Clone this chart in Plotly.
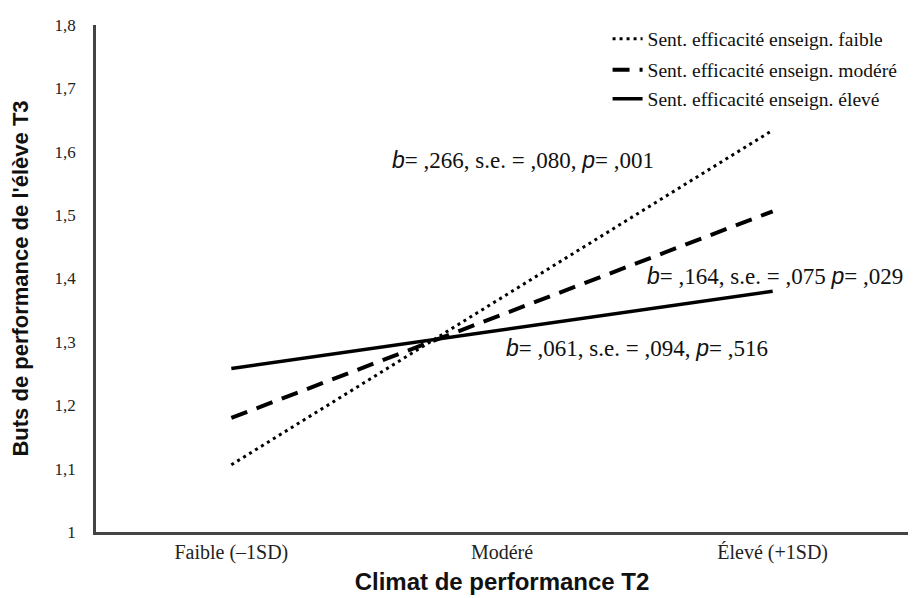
import plotly.graph_objects as go

categories = ["Faible (\u20131SD)", "Modéré", "Élevé (+1SD)"]
series_names = ["Sent. efficacité enseign. faible",
                "Sent. efficacité enseign. modéré",
                "Sent. efficacité enseign. élevé"]
low_eff = [1.106, 1.370, 1.634]
mod_eff = [1.180, 1.343, 1.506]
high_eff = [1.258, 1.319, 1.380]
y_ticks = [1, 1.1, 1.2, 1.3, 1.4, 1.5, 1.6, 1.7, 1.8]
annot_texts = [
    "<i>b</i>= ,266, s.e. = ,080, <i>p</i>= ,001",
    "<i>b</i>= ,164, s.e. = ,075 <i>p</i>= ,029",
    "<i>b</i>= ,061, s.e. = ,094, <i>p</i>= ,516",
]

SERIF = "Liberation Serif, Times New Roman, serif"
SANS = "Liberation Sans, Arial, sans-serif"

def fmt(t):
    return t.replace("<i>b</i>", "<span style='font-family:Liberation Sans'><i>b</i></span>") \
            .replace("<i>p</i>", "<span style='font-family:Liberation Sans'><i>p</i></span>")

x = [0, 1, 2]
fig = go.Figure()
styles = [dict(width=3, dash="3px,4px"), dict(width=4, dash="17px,10px"), dict(width=3.5, dash="solid")]
data = [low_eff, mod_eff, high_eff]
legends = ["legend", "legend2", "legend3"]
for name, vals, st, lg in zip(series_names, data, styles, legends):
    fig.add_trace(go.Scatter(x=x, y=vals, mode="lines", name=name,
                             line=dict(color="black", **st), legend=lg))

leg_common = dict(font=dict(family=SERIF, size=19.5, color="#111"), bgcolor="rgba(0,0,0,0)",
                  borderwidth=0, xanchor="left", yanchor="middle", x=0.630)
fig.update_layout(
    legend=dict(y=0.972, **leg_common),
    legend2=dict(y=0.911, **leg_common),
    legend3=dict(y=0.854, **leg_common),
)

annots = [(0.586, 1.587, "left", annot_texts[0]),
          (2.489, 1.404, "right", annot_texts[1]),
          (1.007, 1.291, "left", annot_texts[2])]
for ax, ay, anc, t in annots:
    fig.add_annotation(x=ax, y=ay, text=fmt(t), showarrow=False, xref="x", yref="y",
                       xanchor=anc, yanchor="middle",
                       font=dict(family=SERIF, size=23, color="#111"))

fig.update_layout(
    width=911, height=590,
    margin=dict(l=88, r=11, t=17, b=66),
    paper_bgcolor="white", plot_bgcolor="white",
    separators=", ",
    showlegend=True,
    xaxis=dict(range=[-0.5, 2.5], tickvals=x, ticktext=categories, showgrid=False,
               zeroline=False, showline=True, linecolor="#444", linewidth=2.5, ticks="",
               automargin=False,
               tickfont=dict(family=SERIF, size=20, color="#222"),
               title=dict(text="<b>Climat de performance T2</b>", font=dict(family=SANS, size=24, color="#111"),
                          standoff=11)),
    yaxis=dict(range=[1, 1.8], tickvals=y_ticks, showgrid=False, zeroline=False,
               showline=True, linecolor="#444", linewidth=2.5, ticks="outside", ticklen=14,
               tickcolor="white", automargin=False,
               tickfont=dict(family=SERIF, size=17, color="#222"),
               title=dict(text="<b>Buts de performance de l'élève T3</b>", font=dict(family=SANS, size=22, color="#111"),
                          standoff=23)),
)

fig.write_html("out.html")
